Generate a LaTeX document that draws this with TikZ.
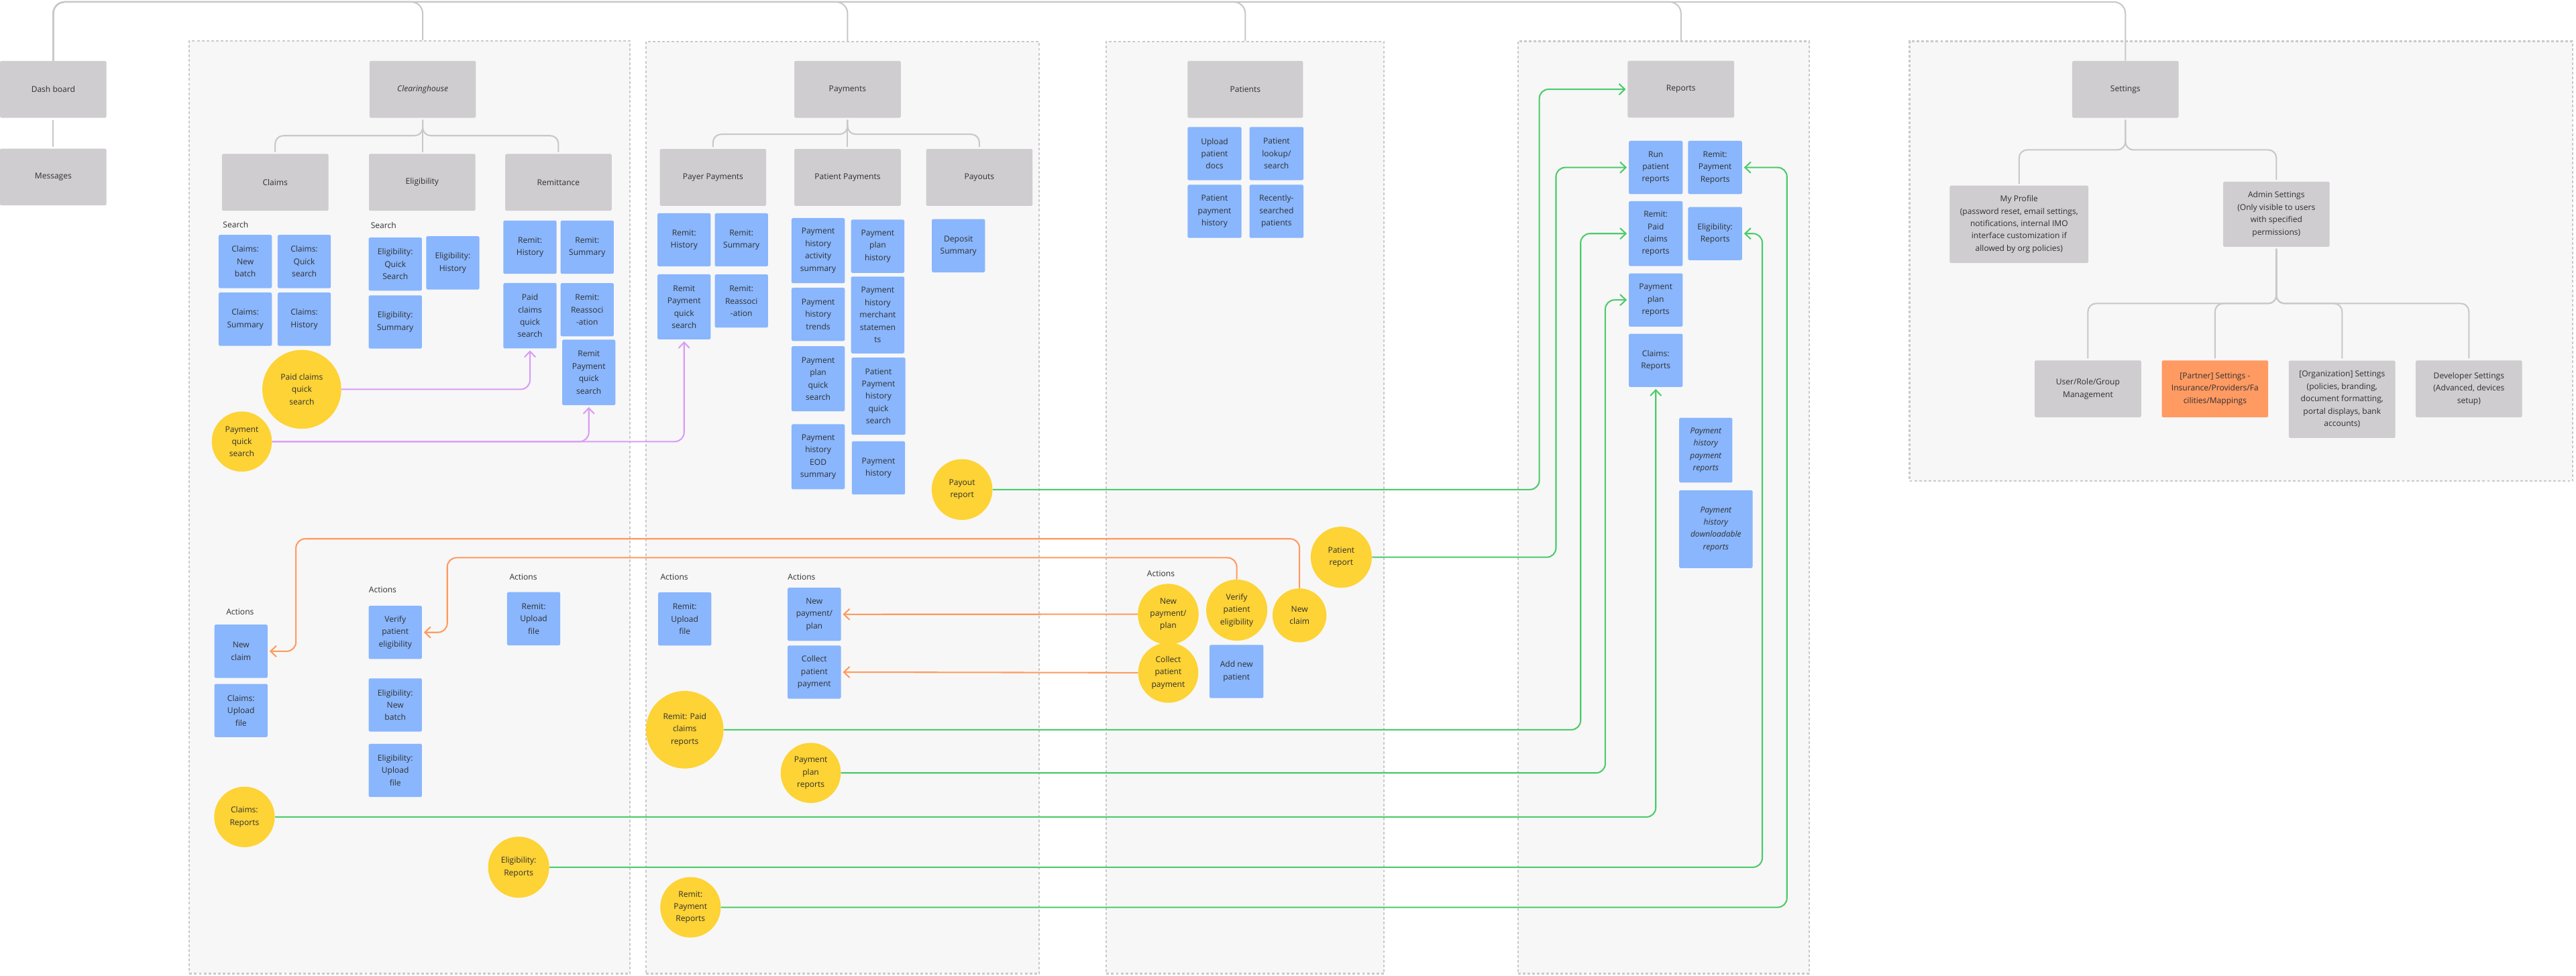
\documentclass[tikz,border=0pt]{standalone}
\usepackage{fontspec}
\setmainfont{Open Sans}
\usepackage{tikz}
\usetikzlibrary{arrows.meta,calc,positioning}

\definecolor{panelbg}{HTML}{F7F7F7}
\definecolor{paneldash}{HTML}{CACACA}
\definecolor{pagegrey}{HTML}{CFCDCF}
\definecolor{leafblue}{HTML}{89B6FD}
\definecolor{actyellow}{HTML}{FDD335}
\definecolor{partnerorange}{HTML}{FF9A62}
\definecolor{treegrey}{HTML}{C9C7C9}
\definecolor{searchpurple}{HTML}{D99CF5}
\definecolor{actionorange}{HTML}{FF9A5E}
\definecolor{reportgreen}{HTML}{4CCB6A}
\definecolor{ink}{HTML}{303030}

\newcommand\boxfont{\fontsize{7}{10.7}\selectfont}

\tikzstyle{panel}=[draw=paneldash, fill=panelbg, line width=1.2pt,
                   dash pattern=on 2.3pt off 1.8pt]
\tikzstyle{page} =[rectangle, fill=pagegrey, rounded corners=1pt,
                   minimum width=3.24cm, minimum height=1.73cm,
                   inner sep=1pt, align=center, text=ink, font=\boxfont]
\tikzstyle{leaf} =[rectangle, fill=leafblue, rounded corners=1pt,
                   minimum width=1.62cm, minimum height=1.62cm,
                   inner sep=1pt, align=center, text=ink, font=\boxfont]
\tikzstyle{act}  =[circle, fill=actyellow, inner sep=0pt,
                   align=center, text=ink, font=\boxfont]
\tikzstyle{tag}  =[anchor=west, inner sep=0pt, text=ink, font=\boxfont]
\tikzstyle{tree} =[draw=treegrey, line width=1.2pt, rounded corners=7pt,
                   shorten <=1.5pt, shorten >=1.5pt]
\tikzstyle{spine}=[draw=treegrey, line width=1.2pt, rounded corners=10pt]
\tikzstyle{link} =[line width=1.2pt, rounded corners=8pt, shorten >=1.5pt,
                   -{Straight Barb[length=5pt,width=9.5pt]}]

\begin{document}
\begin{tikzpicture}[x=0.05cm, y=-0.05cm]
        \fill[white] (0,0) rectangle (1568,594);
        \useasboundingbox (0,0) rectangle (1568,594);

        % panels
        \node (clrpanel) [panel, minimum width=13.41cm, minimum height=28.39cm] at (249.4,308.8) {};
        \node (paypanel) [panel, minimum width=11.965cm, minimum height=28.37cm] at (512.85,309) {};
        \node (patpanel) [panel, minimum width=8.445cm, minimum height=28.37cm] at (757.95,309) {};
        \node (reppanel) [panel, minimum width=8.86cm, minimum height=28.38cm] at (1012.5,308.9) {};
        \node (setpanel) [panel, minimum width=20.185cm, minimum height=13.39cm] at (1364.15,159) {};

        % dashboard column
        \node (dash) [page] at (32.4,54.45) {Dash board};
        \node (msg) [page] at (32.4,107.75) {Messages};

        % clearinghouse
        \node (clr) [page] at (257.3,54.45) {\textit{Clearinghouse}};
        \node (claims) [page] at (167.5,111) {Claims};
        \node (elig) [page] at (257,111) {Eligibility};
        \node (remit) [page] at (339.9,111) {Remittance};
        \node (srchC) [tag] at (135.6,136.9) {Search};
        \node (srchE) [tag] at (225.6,137.3) {Search};
        \node (cNew) [leaf] at (149.3,159.2) {Claims:\\New\\batch};
        \node (cQuick) [leaf] at (185.2,159.2) {Claims:\\Quick\\search};
        \node (cSum) [leaf] at (149.3,194.3) {Claims:\\Summary};
        \node (cHist) [leaf] at (185.2,194.3) {Claims:\\History};
        \node (eQuick) [leaf] at (240.6,160.8) {Eligibility:\\Quick\\Search};
        \node (eHist) [leaf] at (275.6,160) {Eligibility:\\History};
        \node (eSum) [leaf] at (240.6,196) {Eligibility:\\Summary};
        \node (rHist) [leaf] at (322.6,150.5) {Remit:\\History};
        \node (rSum) [leaf] at (357.4,150.5) {Remit:\\Summary};
        \node (rPaid) [leaf, minimum height=1.99cm] at (322.6,192.2) {Paid\\claims\\quick\\search};
        \node (rReas) [leaf] at (357.4,188.55) {Remit:\\Reassoci\\-ation};
        \node (rPayQ) [leaf, minimum height=1.99cm] at (358.4,226.7) {Remit\\Payment\\quick\\search};
        \node (cPaidQ) [act, minimum size=2.4cm] at (183.7,237) {Paid claims\\quick\\search};
        \node (cPayQ) [act, minimum size=1.83cm] at (147.2,268.8) {Payment\\quick\\search};
        \node (actC) [tag] at (137.6,372.4) {Actions};
        \node (actE) [tag] at (224.4,358.8) {Actions};
        \node (actR) [tag] at (310,351.3) {Actions};
        \node (aNewClaim) [leaf] at (146.7,396.45) {New\\claim};
        \node (aClaimUp) [leaf] at (146.7,432.55) {Claims:\\Upload\\file};
        \node (aVerify) [leaf] at (240.6,384.95) {Verify\\patient\\eligibility};
        \node (aEligBatch) [leaf] at (240.6,429.15) {Eligibility:\\New\\batch};
        \node (aEligUp) [leaf] at (240.6,468.95) {Eligibility:\\Upload\\file};
        \node (aRemitUp) [leaf] at (324.85,376.65) {Remit:\\Upload\\file};
        \node (rpClaims) [act, minimum size=1.84cm] at (148.8,497.3) {Claims:\\Reports};
        \node (rpElig) [act, minimum size=1.86cm] at (315.7,527.9) {Eligibility:\\Reports};

        % payments
        \node (pay) [page] at (515.9,54.4) {Payments};
        \node (payer) [page] at (434,108) {Payer Payments};
        \node (patpay) [page] at (515.9,108) {Patient Payments};
        \node (payouts) [page] at (596.1,108) {Payouts};
        \node (pyHist) [leaf] at (416.4,146) {Remit:\\History};
        \node (pySum) [leaf] at (451.3,146) {Remit:\\Summary};
        \node (pyQuick) [leaf, minimum height=1.98cm] at (416.4,186.8) {Remit\\Payment\\quick\\search};
        \node (pyReas) [leaf] at (451.3,183.25) {Remit:\\Reassoci\\-ation};
        \node (ppAct) [leaf, minimum height=1.98cm] at (498,152.6) {Payment\\history\\activity\\summary};
        \node (ppPlanHist) [leaf] at (534.25,149.9) {Payment\\plan\\history};
        \node (ppTrends) [leaf] at (498,191.35) {Payment\\history\\trends};
        \node (ppMerch) [leaf, minimum height=2.34cm] at (534.25,191.75) {Payment\\history\\merchant\\statemen\\ts};
        \node (ppPlanQ) [leaf, minimum height=1.98cm] at (498,230.55) {Payment\\plan\\quick\\search};
        \node (ppPatQ) [leaf, minimum width=1.64cm, minimum height=2.35cm] at (534.7,241.15) {Patient\\Payment\\history\\quick\\search};
        \node (ppEOD) [leaf, minimum height=1.98cm] at (498,278.05) {Payment\\history\\EOD\\summary};
        \node (ppHist) [leaf] at (534.7,284.8) {Payment\\history};
        \node (deposit) [leaf] at (583.4,149.6) {Deposit\\Summary};
        \node (rpPayout) [act, minimum size=1.85cm] at (585.6,298) {Payout\\report};
        \node (actPy) [tag] at (401.9,351.1) {Actions};
        \node (actPp) [tag] at (479.4,351.1) {Actions};
        \node (aRemitUp2) [leaf] at (416.8,376.8) {Remit:\\Upload\\file};
        \node (aNewPay) [leaf] at (495.65,373.95) {New\\payment/\\plan};
        \node (aCollect) [leaf] at (495.65,409.15) {Collect\\patient\\payment};
        \node (rpPaid) [act, minimum size=2.36cm] at (416.8,444.2) {Remit: Paid\\claims\\reports};
        \node (rpPlan) [act, minimum size=1.83cm] at (493.5,470.5) {Payment\\plan\\reports};
        \node (rpRemitPay) [act, minimum size=1.84cm] at (420.3,552.3) {Remit:\\Payment\\Reports};

        % patients
        \node (pat) [page, minimum width=3.515cm] at (758,54.4) {Patients};
        \node (ptUpload) [leaf, minimum width=1.64cm] at (739.3,93.5) {Upload\\patient\\docs};
        \node (ptLookup) [leaf, minimum width=1.64cm] at (777,93.5) {Patient\\lookup/\\search};
        \node (ptHist) [leaf, minimum width=1.64cm] at (739.3,128.65) {Patient\\payment\\history};
        \node (ptRecent) [leaf, minimum width=1.64cm] at (777,128.65) {Recently-\\searched\\patients};
        \node (actPt) [tag] at (698.1,349.3) {Actions};
        \node (yNewPay) [act, minimum size=1.85cm] at (711.1,373.9) {New\\payment/\\plan};
        \node (yCollect) [act, minimum size=1.83cm] at (711.1,409.5) {Collect\\patient\\payment};
        \node (yVerify) [act, minimum size=1.86cm] at (752.8,371.4) {Verify\\patient\\eligibility};
        \node (yNewClaim) [act, minimum size=1.64cm] at (791,374.6) {New\\claim};
        \node (ptAdd) [leaf, minimum width=1.64cm] at (752.65,408.75) {Add new\\patient};
        \node (rpPatient) [act, minimum size=1.86cm] at (816.4,339.2) {Patient\\report};

        % reports
        \node (rep) [page] at (1023.2,54.35) {Reports};
        \node (rRun) [leaf, minimum width=1.64cm] at (1007.85,101.95) {Run\\patient\\reports};
        \node (rRemitPay) [leaf, minimum width=1.64cm] at (1043.95,101.95) {Remit:\\Payment\\Reports};
        \node (rPaidRep) [leaf, minimum width=1.64cm, minimum height=1.98cm] at (1007.85,142.2) {Remit:\\Paid\\claims\\reports};
        \node (rEligRep) [leaf, minimum width=1.64cm] at (1043.95,142.2) {Eligibility:\\Reports};
        \node (rPlanRep) [leaf, minimum width=1.64cm] at (1007.85,182.6) {Payment\\plan\\reports};
        \node (rClaimsRep) [leaf, minimum width=1.64cm] at (1007.85,219.4) {Claims:\\Reports};
        \node (rPHPay) [leaf, minimum height=1.97cm, font=\boxfont\itshape] at (1038.3,274) {Payment\\history\\payment\\reports};
        \node (rPHDown) [leaf, minimum width=2.235cm, minimum height=2.37cm, font=\boxfont\itshape] at (1044.45,322.1) {Payment\\history\\downloadable\\reports};

        % settings
        \node (set) [page] at (1293.7,54.4) {Settings};
        \node (profile) [page, minimum width=4.22cm, minimum height=2.355cm] at (1229,136.55) {My Profile\\(password reset, email settings,\\notifications, internal IMO\\interface customization if\\allowed by org policies)};
        \node (admin) [page, minimum height=1.98cm] at (1385.6,130.4) {Admin Settings\\(Only visible to users\\with specified\\permissions)};
        \node (userRole) [page] at (1270.9,236.7) {User/Role/Group\\Management};
        \node (partner) [page, fill=partnerorange] at (1348.25,236.7) {[Partner] Settings -\\Insurance/Providers/Fa\\cilities/Mappings};
        \node (org) [page, minimum height=2.355cm] at (1425.6,243.05) {[Organization] Settings\\(policies, branding,\\document formatting,\\portal displays, bank\\accounts)};
        \node (dev) [page] at (1502.8,236.7) {Developer Settings\\(Advanced, devices\\setup)};

        % top navigation
        \coordinate (topbar) at (0,1.2);
        \draw[spine] (dash.north) |- (topbar -| clr) -- (clr |- clrpanel.north);
        \draw[spine] (dash.north) |- (topbar -| pay) -- (pay |- paypanel.north);
        \draw[spine] (dash.north) |- (topbar -| pat) -- (pat |- patpanel.north);
        \draw[spine] (dash.north) |- (topbar -| rep) -- (rep |- reppanel.north);
        \draw[spine] (dash.north) |- (topbar -| set) -- (set.north);
        \draw[tree] (dash) -- (msg);

        % section trees
        \draw[tree] (clr.south) -- ++(0,10.7) -| (claims.north);
        \draw[tree] (clr.south) -- (clr.south |- elig.north);
        \draw[tree] (clr.south) -- ++(0,10.7) -| (remit.north);
        \draw[tree] (pay.south) -- ++(0,9.9) -| (payer.north);
        \draw[tree] (pay.south) -- (patpay.north);
        \draw[tree] (pay.south) -- ++(0,9.9) -| (payouts.north);
        \draw[tree] (set.south) -- ++(0,19.4) -| (profile.north);
        \draw[tree] (set.south) -- ++(0,19.4) -| (admin.north);
        \draw[tree] (admin.south) -- ++(0,34.4) -| (userRole.north);
        \draw[tree] (admin.south) -- ++(0,34.4) -| (partner.north);
        \draw[tree] (admin.south) -- ++(0,34.4) -| (org.north);
        \draw[tree] (admin.south) -- ++(0,34.4) -| (dev.north);

        % quick search links
        \draw[link, searchpurple] (cPaidQ.east) -| (rPaid.south);
        \draw[link, searchpurple] (cPayQ.east) -| (rPayQ.south);
        \draw[link, searchpurple] (cPayQ.east) -| (pyQuick.south);

        % action links
        \draw[link, actionorange] (yNewClaim.north) |- ($(aNewClaim.east)+(17.1,-68.45)$) |- (aNewClaim.east);
        \draw[link, actionorange] (yVerify.north) |- ($(aVerify.east)+(15.3,-45.45)$) |- (aVerify.east);
        \draw[link, actionorange] (yNewPay.west) -- (aNewPay.east);
        \draw[link, actionorange] (yCollect.west) -- (aCollect.east);

        % report links
        \draw[link, reportgreen] (rpPayout.east) -| ($(rep.west)+(-53.7,0)$) -- (rep.west);
        \draw[link, reportgreen] (rpPatient.east) -| ($(rRun.west)+(-44.2,0)$) -- (rRun.west);
        \draw[link, reportgreen] (rpPaid.east) -| ($(rPaidRep.west)+(-29.2,0)$) -- (rPaidRep.west);
        \draw[link, reportgreen] (rpPlan.east) -| ($(rPlanRep.west)+(-14.2,0)$) -- (rPlanRep.west);
        \draw[link, reportgreen] (rpClaims.east) -| (rClaimsRep.south);
        \draw[link, reportgreen] (rpElig.east) -| ($(rEligRep.east)+(12.2,0)$) -- (rEligRep.east);
        \draw[link, reportgreen] (rpRemitPay.east) -| ($(rRemitPay.east)+(27.2,0)$) -- (rRemitPay.east);

\end{tikzpicture}
\end{document}
